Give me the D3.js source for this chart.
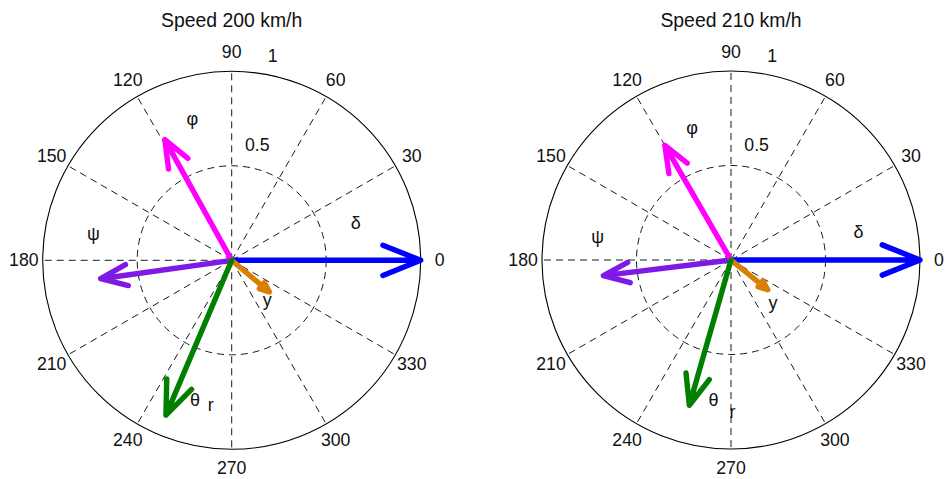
<!DOCTYPE html>
<html>
<head>
<meta charset="utf-8">
<script src="https://cdn.jsdelivr.net/npm/d3@7"></script>
<style>
  html, body { margin: 0; padding: 0; background: #fff; }
  svg { display: block; font-family: "Liberation Sans", Arial, Helvetica, sans-serif; }
</style>
</head>
<body>
<svg id="chart" width="945" height="479"></svg>
<script>
// Compass plots of the mode-shape components at two speeds.
const speeds = [200, 210];
const componentNames = ["δ", "φ", "ψ", "θ", "y", "r"];
const componentColors = ["#0000ff", "#ff00ff", "#7f1ae6", "#008000", "#d98000", "#000000"];

// magnitude (normalised) and phase angle (degrees) per component
const magnitudes200 = [1.00, 0.73, 0.70, 0.89, 0.26, 0];
const phases200     = [0,   119,  188,  247,  320,  0];
const magnitudes210 = [1.00, 0.70, 0.68, 0.80, 0.25, 0];
const phases210     = [0,   120,  187,  254,  321,  0];

// name label anchors in plot units (x, y)
const labelX200 = [0.656, -0.208, -0.732, -0.194, 0.188, -0.111];
const labelY200 = [0.199,  0.750,  0.141, -0.737, -0.212, -0.767];
const labelX210 = [0.675, -0.206, -0.706, -0.092, 0.222, 0.008];
const labelY210 = [0.150,  0.697,  0.123, -0.741, -0.229, -0.803];

const angleTicks = [0, 30, 60, 90, 120, 150, 180, 210, 240, 270, 300, 330];
const radialTicks = [0.5, 1];

// order in which the arrows are stacked
const drawOrder = [0, 2, 1, 4, 3];

const panels = [
  { speed: speeds[0], mags: magnitudes200, phases: phases200, lx: labelX200, ly: labelY200, cx: 231.7, cy: 260.3 },
  { speed: speeds[1], mags: magnitudes210, phases: phases210, lx: labelX210, ly: labelY210, cx: 731, cy: 260 }
];

const svg = d3.select("#chart");
const R = 189;
const rScale = d3.scaleLinear().domain([0, 1]).range([0, R]);
const rad = d => d * Math.PI / 180;
const toXY = (r, deg) => [rScale(r) * Math.cos(rad(deg)), -rScale(r) * Math.sin(rad(deg))];

// compass arrow shape in local coordinates (along +x, unit length)
const arrowShape = [[0, 0], [1, 0], [0.8, 0.08], [1, 0], [0.8, -0.08]];
const line = d3.line();

panels.forEach(p => {
  const g = svg.append("g").attr("transform", `translate(${p.cx},${p.cy})`);

  // spokes every 30 degrees
  g.selectAll("line.spoke").data(angleTicks).join("line")
    .attr("class", "spoke")
    .attr("x1", 0).attr("y1", 0)
    .attr("x2", d => toXY(1, d)[0])
    .attr("y2", d => toXY(1, d)[1])
    .attr("stroke", "#000").attr("stroke-width", 0.9)
    .attr("stroke-dasharray", "7,5");

  // inner dashed circle
  g.selectAll("circle.ring").data(radialTicks.filter(r => r < 1)).join("circle")
    .attr("class", "ring")
    .attr("r", d => rScale(d))
    .attr("fill", "none").attr("stroke", "#000").attr("stroke-width", 0.9)
    .attr("stroke-dasharray", "7,5");

  // outer solid circle
  g.append("circle").attr("r", rScale(1))
    .attr("fill", "none").attr("stroke", "#000").attr("stroke-width", 1.1);

  // angle labels
  g.selectAll("text.angle").data(angleTicks).join("text")
    .attr("class", "angle")
    .attr("x", d => toXY(1.1, d)[0])
    .attr("y", d => toXY(1.1, d)[1])
    .attr("text-anchor", "middle").attr("dominant-baseline", "central")
    .attr("font-size", 17.7).attr("fill", "#111")
    .text(d => d);

  // radial labels
  g.selectAll("text.radial").data(radialTicks).join("text")
    .attr("class", "radial")
    .attr("x", d => toXY(d * 0.972, 75.6)[0] - 9.5)
    .attr("y", d => toXY(d * 0.972, 75.6)[1] - 20.3)
    .attr("text-anchor", "start")
    .attr("font-size", 17.7).attr("fill", "#111")
    .text(d => d);

  // arrows
  const arrows = drawOrder.filter(i => p.mags[i] > 0);
  g.selectAll("path.arrow").data(arrows).join("path")
    .attr("class", "arrow")
    .attr("d", i => {
      const m = rScale(p.mags[i]);
      const a = -rad(p.phases[i]);
      const pts = arrowShape.map(([x, y]) => [
        m * (x * Math.cos(a) - y * Math.sin(a)),
        m * (x * Math.sin(a) + y * Math.cos(a))
      ]);
      return line(pts);
    })
    .attr("fill", "none")
    .attr("stroke", i => componentColors[i])
    .attr("stroke-width", 5.4)
    .attr("stroke-linecap", "round")
    .attr("stroke-linejoin", "round");

  // component names
  g.selectAll("text.name").data(componentNames).join("text")
    .attr("class", "name")
    .attr("x", (d, i) => rScale(p.lx[i]))
    .attr("y", (d, i) => -rScale(p.ly[i]))
    .attr("text-anchor", "middle").attr("dominant-baseline", "central")
    .attr("font-size", 18).attr("fill", "#111")
    .text(d => d);

  // title
  svg.append("text")
    .attr("x", p.cx).attr("y", 27)
    .attr("text-anchor", "middle")
    .attr("font-size", 19.4).attr("fill", "#111")
    .text(`Speed ${p.speed} km/h`);
});
</script>
</body>
</html>
